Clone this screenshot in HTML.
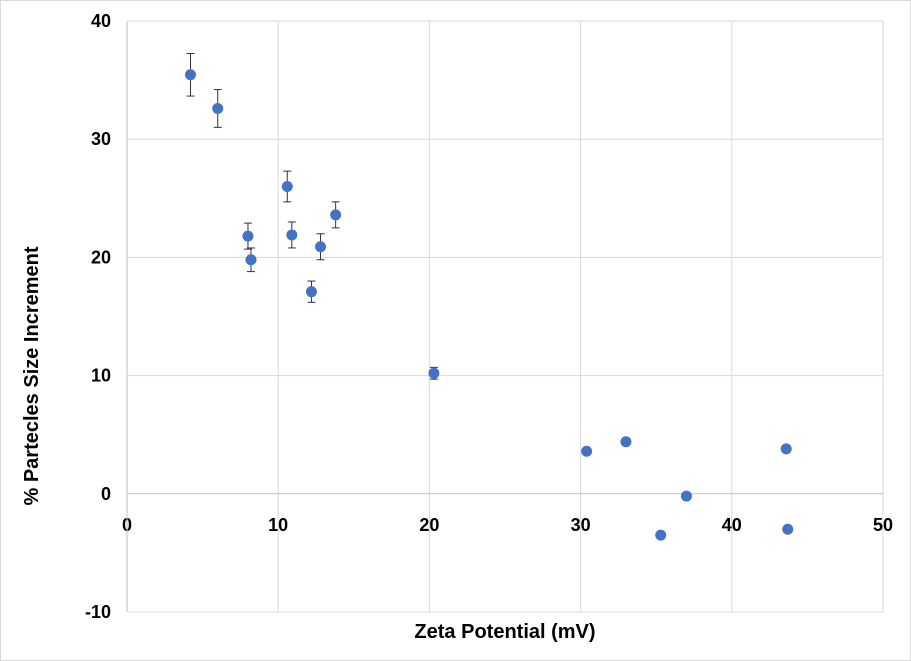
<!DOCTYPE html>
<html><head><meta charset="utf-8"><style>
html,body{margin:0;padding:0;background:#fff;}
svg{display:block;font-family:"Liberation Sans",Arial,sans-serif;}
</style></head><body>
<svg id="chart" width="911" height="661" viewBox="0 0 911 661" xmlns="http://www.w3.org/2000/svg">
<rect x="0.5" y="0.5" width="910" height="660" fill="#fff" stroke="#d9d9d9"/>
<g id="grid"></g>
<g id="axes"></g>
<g id="marks"></g>
<text x="505" y="638" text-anchor="middle" font-size="20" font-weight="bold">Zeta Potential (mV)</text>
<text transform="translate(38,376) rotate(-90)" text-anchor="middle" font-size="20" font-weight="bold">% Partecles Size Increment</text>
</svg>
<script>
const xValues=[4.2,6.0,8.0,8.2,10.6,10.9,12.2,12.8,13.8,20.3,30.4,33.0,35.3,37.0,43.6,43.7];
const yValues=[35.45,32.6,21.8,19.8,26.0,21.9,17.1,20.9,23.6,10.2,3.6,4.4,-3.5,-0.2,3.8,-3.0];
const yErrors=[1.8,1.6,1.1,1.0,1.3,1.1,0.9,1.1,1.1,0.5,0,0,0,0,0,0];
const xTicks=[0,10,20,30,40,50];
const yTicks=[-10,0,10,20,30,40];
const NS="http://www.w3.org/2000/svg";
const X0=127,X1=883,Y0=612,Y1=21;
const xs=v=>X0+(v-0)/50*(X1-X0);
const ys=v=>Y0-(v+10)/50*(Y0-Y1);
function mk(t,a,p){const e=document.createElementNS(NS,t);for(const k in a)e.setAttribute(k,a[k]);p.appendChild(e);return e;}
const grid=document.getElementById('grid'),axes=document.getElementById('axes'),marks=document.getElementById('marks');
xTicks.forEach(t=>{
  if(t>0){const l=mk('line',{x1:xs(t),x2:xs(t),y1:Y1,y2:Y0,stroke:'#d9d9d9'},grid);
  
  }
  const tx=mk('text',{x:xs(t),y:ys(0)+37,'text-anchor':'middle','font-size':'18','font-weight':'bold'},axes);
  tx.textContent=t;
  
  
});
yTicks.forEach(t=>{
  if(t!==0){const l=mk('line',{x1:X0,x2:X1,y1:ys(t),y2:ys(t),stroke:'#d9d9d9'},grid);
  
  }
  const tx=mk('text',{x:X0-16,y:ys(t)+6,'text-anchor':'end','font-size':'18','font-weight':'bold'},axes);
  tx.textContent=t;
  
  
});
const xa=mk('line',{x1:X0,x2:X1,y1:ys(0),y2:ys(0),stroke:'#bfbfbf'},axes);


const ya=mk('line',{x1:X0,x2:X0,y1:Y1,y2:Y0,stroke:'#bfbfbf'},axes);


xValues.forEach((xv,i)=>{
  const cx=xs(xv),cy=ys(yValues[i]),e=yErrors[i];
  if(e>0){
    const g=mk('g',{stroke:'#333','stroke-width':'1'},marks);
    
    
    mk('line',{x1:cx,x2:cx,y1:ys(yValues[i]+e),y2:ys(yValues[i]-e)},g);
    mk('line',{x1:cx-4,x2:cx+4,y1:ys(yValues[i]+e),y2:ys(yValues[i]+e)},g);
    mk('line',{x1:cx-4,x2:cx+4,y1:ys(yValues[i]-e),y2:ys(yValues[i]-e)},g);
  }
  const c=mk('circle',{cx:cx,cy:cy,r:5.5,fill:'#4472c4'},marks);
  
  
});
</script>
</body></html>
